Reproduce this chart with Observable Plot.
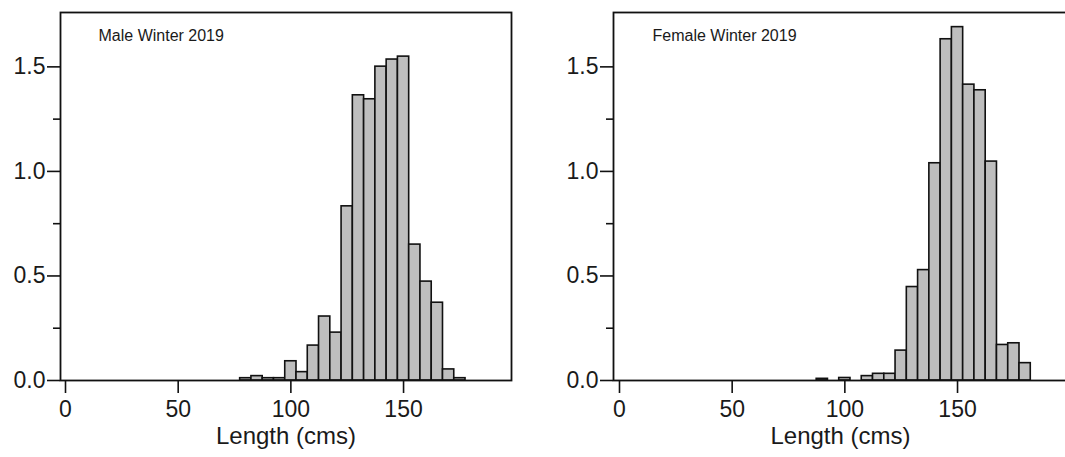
<!DOCTYPE html>
<html><head><meta charset="utf-8">
<script src="https://cdn.jsdelivr.net/npm/d3@7"></script>
<script src="https://cdn.jsdelivr.net/npm/@observablehq/plot@0.6"></script>
<style>
body{margin:0;background:#fff;overflow:hidden;width:1065px;height:457px}
#wrap{display:flex;width:1065px;overflow:hidden}
svg{display:block;flex:none}
</style></head><body><div id="wrap"></div>
<script>
const binWidth = 5;
const maleLength = [80,85,90,95,100,105,110,115,120,125,130,135,140,145,150,155,160,165,170,175];
const maleDensity = [0.011,0.021,0.011,0.011,0.092,0.040,0.167,0.306,0.229,0.833,1.364,1.345,1.501,1.535,1.549,0.650,0.473,0.372,0.053,0.011];
const femaleLength = [90,100,110,115,120,125,130,135,140,145,150,155,160,165,170,175,180];
const femaleDensity = [0.008,0.012,0.021,0.032,0.032,0.143,0.447,0.528,1.039,1.632,1.690,1.415,1.388,1.047,0.170,0.178,0.083];
const yTicks = [0, 0.5, 1, 1.5];
const yMinorTicks = [0.25, 0.75, 1.25];
const xTicks = [0, 50, 100, 150];
const xLabel = "Length (cms)";

function panel({lengths, density, title, width, marginLeft, marginRight, xDomain, titleDx}) {
  const data = lengths.map((l, i) => ({length: l, density: density[i]}));
  return Plot.plot({
    width, height: 457, marginTop: 12, marginBottom: 77, marginLeft, marginRight,
    x: {domain: xDomain},
    y: {domain: [0, 1.76]},
    style: {fontFamily: "'Liberation Sans', Arial, sans-serif", color: "#1a1a1a", background: "white", overflow: "hidden"},
    marks: [
      Plot.rectY(data, {x1: d => d.length - binWidth / 2, x2: d => d.length + binWidth / 2, y: "density",
        fill: "#bebebe", stroke: "#111", strokeWidth: 1.6, inset: 0}),
      Plot.frame({stroke: "#111", strokeWidth: 1.8}),
      Plot.axisY({ticks: yTicks, tickFormat: d3.format(".1f"), tickSize: 13, tickPadding: 2, fontSize: 23,
        stroke: "#111", strokeWidth: 1.6, label: null}),
      Plot.axisY({ticks: yMinorTicks, tickFormat: () => "", tickSize: 7, stroke: "#111", strokeWidth: 1.6, label: null}),
      Plot.axisX({ticks: xTicks, tickSize: 13, tickPadding: 7, fontSize: 23, stroke: "#111", strokeWidth: 1.6, label: null}),
      Plot.text([title], {frameAnchor: "top-left", dx: titleDx, dy: 17, lineAnchor: "top", textAnchor: "start", fontSize: 16, fill: "#1a1a1a"}),
      Plot.text([xLabel], {frameAnchor: "bottom", dy: 63, lineAnchor: "bottom", fontSize: 24, fill: "#1a1a1a"})
    ]
  });
}

const wrap = document.getElementById("wrap");
wrap.append(panel({lengths: maleLength, density: maleDensity, title: "Male Winter 2019",
  width: 532, marginLeft: 60, marginRight: 21, xDomain: [-2.22, 197.9], titleDx: 38}));
wrap.append(panel({lengths: femaleLength, density: femaleDensity, title: "Female Winter 2019",
  width: 535, marginLeft: 81, marginRight: 0, xDomain: [-2.66, 198.8], titleDx: 39}));
</script></body></html>
